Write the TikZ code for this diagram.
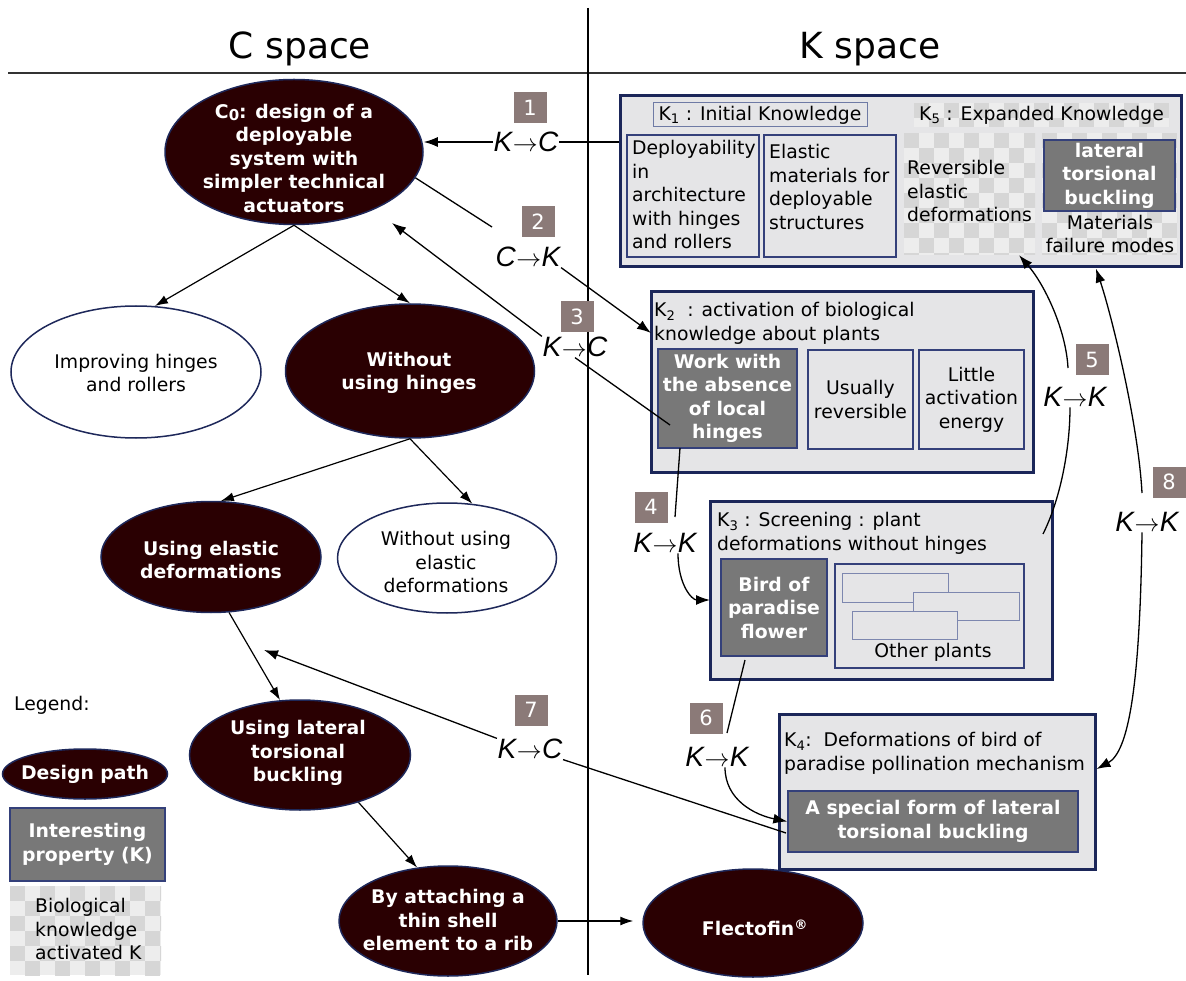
\documentclass[tikz,border=0pt]{standalone}
\usepackage{fontspec}
\setmainfont{DejaVu Sans}
\newfontfamily\lsans{Liberation Sans}
\usetikzlibrary{shapes.geometric,arrows.meta}
\definecolor{dark}{RGB}{42,0,2}
\definecolor{ellb}{RGB}{30,40,90}
\definecolor{navy}{RGB}{27,38,89}
\definecolor{navyl}{RGB}{52,64,122}
\definecolor{kfill}{RGB}{229,229,231}
\definecolor{dgray}{RGB}{120,120,120}
\definecolor{nbc}{RGB}{139,122,120}
\definecolor{chkA}{RGB}{237,237,237}
\definecolor{chkB}{RGB}{214,214,214}
\definecolor{labb}{RGB}{110,122,165}
\definecolor{smallb}{RGB}{125,135,175}
\newcommand\chk[4]{%
  \begin{scope}
    \clip (#1,#2) rectangle (#3,#4);
    \fill[chkA] (#1,#2) rectangle (#3,#4);
    \pgfmathtruncatemacro\chknx{(#3-#1)/15}%
    \pgfmathtruncatemacro\chkny{(#4-#2)/15}%
    \foreach \i in {0,...,\chknx}{%
      \foreach \j in {0,...,\chkny}{%
        \pgfmathtruncatemacro\chkp{mod(\i+\j,2)}%
        \ifnum\chkp=0 \fill[chkB] ({#1+15*\i},{#2+15*\j}) rectangle ++(15,15);\fi
      }}%
  \end{scope}}
\newcommand\bx[7]{\node[#1,minimum width={#5-#3},minimum height={#6-#4},inner sep=0,align=center] (#2) at ({(#3+#5)/2},{(#4+#6)/2}) {#7};}
\newcommand\kk[2]{{\itshape #1}\kern0.5pt$\rightarrow$\kern0.5pt{\itshape #2}}
\newcommand\bodyf{\fontsize{18.8}{23.5}\selectfont}
\begin{document}
\begin{tikzpicture}[x=1pt,y=-1pt,
  dell/.style={ellipse, draw=ellb, line width=1.5pt, fill=dark, inner sep=0},
  well/.style={ellipse, draw=ellb, line width=1.5pt, fill=white, inner sep=0},
  ellt/.style={text=white, font=\bfseries\bodyf, align=center, inner sep=0},
  wellt/.style={text=black, font=\bodyf, align=center, inner sep=0},
  txt/.style={font=\bodyf, inner sep=0},
  outerbox/.style={rectangle, draw=navy, line width=3pt, fill=kfill},
  innerbox/.style={rectangle, draw=navyl, line width=1.3pt, fill=kfill, font=\bodyf},
  darkbox/.style={rectangle, draw=navyl, line width=1.3pt, fill=dgray, text=white, font=\bfseries\bodyf},
  labbox/.style={rectangle, draw=labb, line width=1pt, fill=kfill, font=\bodyf},
  plain/.style={rectangle, draw=none, font=\bodyf},
  smallr/.style={draw=smallb, line width=1pt, fill=kfill},
  nb/.style={rectangle, fill=nbc, text=white, minimum width=33pt, minimum height=31pt, inner sep=0, font=\fontsize{21}{21}\selectfont},
  kl/.style={inner sep=0.5pt, font=\lsans\fontsize{28}{30}\selectfont},
  arr/.style={-{Latex[length=14pt,width=10pt]}, line width=1.3pt},
  arrs/.style={-{Latex[length=13pt,width=9pt]}, line width=1.2pt},
  ln/.style={line width=1.3pt},
  ttl/.style={font=\fontsize{36}{40}\selectfont, inner sep=0}
]
\useasboundingbox (0,0) rectangle (1186,981);
\fill[white] (0,0) rectangle (1186,981);
% titles and separators
\node[ttl] (cs) at (300,49) {C space};
\node[ttl] (ks) at (870,49) {K space};
\draw[line width=2.5pt, black!80] (8,73) -- (1186,73);
\draw[line width=1.5pt] (588,8) -- (588,975);

% ---------- C space ellipses
\node[dell, minimum width=258pt, minimum height=145pt] (c0) at (294,152) {};
\node[ellt] (c0t) at (294,158) {C\raisebox{-0.25ex}{\fontsize{15}{15}\selectfont 0}: design of a\\deployable\\system with\\simpler technical\\actuators};
\node[well, minimum width=250pt, minimum height=132pt] (imp) at (136,372) {};
\node[wellt] (impt) at (136,373) {Improving hinges\\and rollers};
\node[dell, minimum width=249pt, minimum height=134pt] (woh) at (410,371) {};
\node[ellt] (woht) at (409,373) {Without\\using hinges};
\node[dell, minimum width=220pt, minimum height=111pt] (ued) at (211,557) {};
\node[ellt] (uedt) at (211,560) {Using elastic\\deformations};
\node[well, minimum width=219pt, minimum height=110pt] (wued) at (447,558) {};
\node[wellt] (wuedt) at (446,562) {Without using\\elastic\\deformations};
\node[dell, minimum width=221pt, minimum height=110pt] (ultb) at (300,755) {};
\node[ellt] (ultbt) at (298,753) {Using lateral\\torsional\\buckling};
\node[dell, minimum width=218pt, minimum height=110pt] (bat) at (448,921) {};
\node[ellt] (batt) at (448,920) {By attaching a\\thin shell\\element to a rib};
\node[dell, minimum width=220pt, minimum height=108pt] (flec) at (753,923) {};
\node[ellt] (flect) at (755,928) {Flectofin\textsuperscript{®}};

% ellipse arrows
\draw[arrs] (c0.south) -- (imp.74);
\draw[arrs] (c0.south) -- (woh.north);
\draw[arrs] (woh.south) -- (ued.80);
\draw[arrs] (woh.south) -- (wued.65);
\draw[arrs] (ued.-72) -- (ultb.110);
\draw[arrs] (ultb.-39) -- (bat.120);
\draw[arrs, shorten >=9pt] (bat.east) -- (bat.east -| flec.west);

% ---------- Legend
\node[txt, anchor=west] (leg) at (14,705) {Legend:};
\node[dell, minimum width=165pt, minimum height=50pt] (legE) at (85,774) {};
\node[ellt] (legEt) at (85,774) {Design path};
\bx{darkbox}{legK}{10}{808}{165}{881}{Interesting\\property (K)}
\chk{10}{886}{161}{975}
\bx{plain}{legB}{10}{886}{161}{975}{}
\node[txt, anchor=north west, align=left] (legBt) at (35,898.5) {Biological\\knowledge\\activated K};

% ---------- K1 / K5
\bx{outerbox}{k1}{620}{96}{1181}{267}{}
\bx{labbox}{k1lab}{653}{103}{867}{127}{K\textsubscript{1} : Initial Knowledge}
\chk{914}{103}{1169}{127}
\bx{plain}{k5lab}{914}{103}{1169}{127}{K\textsubscript{5} : Expanded Knowledge}
\bx{innerbox}{dep}{627}{135}{759}{257}{}
\node[txt, anchor=north west, align=left] (dept) at (632,140.5) {Deployability\\in\\architecture\\with hinges\\and rollers};
\bx{innerbox}{ela}{764}{135}{896}{257}{}
\node[txt, anchor=north west, align=left] (elat) at (769,144.5) {Elastic\\materials for\\deployable\\structures};
\chk{904}{133}{1035}{255}
\bx{plain}{rev}{904}{133}{1035}{255}{}
\node[txt, anchor=north west, align=left] (revt) at (907,160.5) {Reversible\\elastic\\deformations};
\chk{1042}{133}{1177}{255}
\bx{plain}{mat}{1042}{133}{1177}{255}{}
\bx{darkbox}{ltb}{1044}{140}{1175}{211}{lateral\\torsional\\buckling}
\node[txt, align=center] (matt) at (1110,234) {Materials\\failure modes};

% ---------- K2
\bx{outerbox}{k2}{651}{292}{1033}{472}{}
\node[txt, anchor=north west, align=left] (k2t) at (654,302.5) {K\textsubscript{2}\ \ : activation of biological\\knowledge about plants};
\bx{darkbox}{work}{658}{349}{797}{448}{Work with\\the absence\\of local\\hinges}
\bx{innerbox}{usu}{808}{350}{913}{449}{Usually\\reversible}
\bx{innerbox}{lit}{919}{350}{1024}{449}{Little\\activation\\energy}

% ---------- K3
\bx{outerbox}{k3}{710}{501}{1052}{679}{}
\node[txt, anchor=north west, align=left] (k3t) at (717,512.5) {K\textsubscript{3} : Screening : plant\\deformations without hinges};
\bx{darkbox}{bird}{721}{559}{827}{656}{Bird of\\paradise\\flower}
\bx{innerbox}{oth}{835}{564}{1024}{668}{}
\draw[smallr] (842,573) rectangle (948,602);
\draw[smallr] (913,592) rectangle (1019,620);
\draw[smallr] (852,611) rectangle (957,639);
\node[txt] (otht) at (933,652) {Other plants};

% ---------- K4
\bx{outerbox}{k4}{779}{714}{1095}{869}{}
\node[txt, anchor=north west, align=left] (k4t) at (784,732.5) {K\textsubscript{4}:\ \ Deformations of bird of\\paradise pollination mechanism};
\bx{darkbox}{spec}{788}{791}{1078}{852}{A special form of lateral\\torsional buckling}

% ---------- numbered steps
\node[nb] (n1) at (530,108) {1};
\node[nb] (n2) at (538,222) {2};
\node[nb] (n3) at (577,317) {3};
\node[nb] (n4) at (651,507) {4};
\node[nb] (n5) at (1092,360) {5};
\node[nb] (n6) at (706,718) {6};
\node[nb] (n7) at (531,710) {7};
\node[nb] (n8) at (1169,482) {8};
\node[kl] (l1) at (526,142) {\kk KC};
\node[kl] (l2) at (528,257) {\kk CK};
\node[kl] (l3) at (575,347) {\kk KC};
\node[kl] (l4) at (665,543) {\kk KK};
\node[kl] (l5) at (1075,397) {\kk KK};
\node[kl] (l6) at (717,757) {\kk KK};
\node[kl] (l7) at (530,749) {\kk KC};
\node[kl] (l8) at (1147,522) {\kk KK};

% free ends
\coordinate (p2a) at (492,227);
\coordinate (t2) at (651,333);
\coordinate (t3) at (392,223);
\coordinate (e3) at (670,425);
\coordinate (w4) at (680,448);
\coordinate (e4) at (675,517);
\coordinate (t4) at (710,600);
\coordinate (s5) at (1043,534);
\coordinate (s5b) at (1068,368);
\coordinate (s6) at (745,660);
\coordinate (e6) at (727,733);
\coordinate (t7) at (264,650);
\coordinate (e7) at (786,833);
\coordinate (s8) at (1142,493);

% ---------- connectors
\draw[arr] (l1.west) -- (l1.west -| c0.east);
\draw[ln] (l1.east) -- (l1.east -| k1.west);
\draw[ln] (c0.-12) -- (p2a);
\draw[arr] (l2.south east) -- (t2);
\draw[arr] (l3.north west) -- (t3);
\draw[ln] (l3.south) -- (e3);
\draw[ln] (w4) -- (e4);
\draw[arr] ([xshift=13pt]l4.south) .. controls (678,585) and (692,600) .. (t4);
\draw[ln] (s5) .. controls (1060,500) and (1070,450) .. ([xshift=-5pt]l5.south);
\draw[arr] (s5b) .. controls (1066,330) and (1045,285) .. (rev.-51);
\draw[ln] (s6) -- (e6);
\draw[arr] ([xshift=8pt]l6.south) .. controls (725,800) and (755,815) .. (spec.west);
\draw[arr] (l7.north west) -- (t7);
\draw[ln] (l7.south east) -- (e7);
\draw[arr] (s8) .. controls (1138,420) and (1110,310) .. (k1.-24);
\draw[arr] ([xshift=-5pt]l8.south) .. controls (1140,690) and (1128,752) .. (k4.8);
\end{tikzpicture}
\end{document}
